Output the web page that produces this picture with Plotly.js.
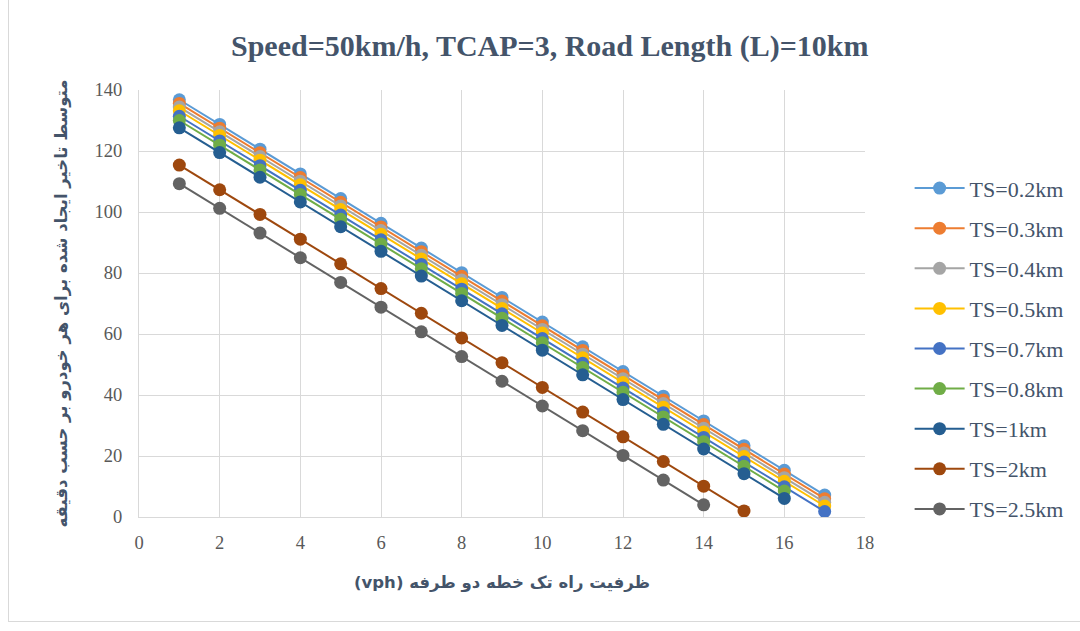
<!DOCTYPE html>
<html>
<head>
<meta charset="utf-8">
<script src="https://cdn.plot.ly/plotly-3.0.1.min.js"></script>
<style>
  html, body { margin: 0; padding: 0; background: #fff; }
  #wrap { position: relative; width: 1080px; height: 631px; }
  #chart { width: 1080px; height: 631px; }
  #frame { position: absolute; left: 8px; top: -2px; width: 1080px; height: 624px; border: 1px solid #D9D9D9; box-sizing: border-box; pointer-events: none; }
</style>
</head>
<body>
<div id="wrap"><div id="chart"></div><div id="frame"></div></div>
<script>
const capacity = [1,2,3,4,5,6,7,8,9,10,11,12,13,14,15,16,17];
const seriesNames = ["TS=0.2km","TS=0.3km","TS=0.4km","TS=0.5km","TS=0.7km","TS=0.8km","TS=1km","TS=2km","TS=2.5km"];
const seriesColors = ["#5B9BD5","#ED7D31","#A5A5A5","#FFC000","#4472C4","#70AD47","#255E91","#9E480E","#636363"];

const ts02 = [136.8,128.7,120.6,112.5,104.4,96.3,88.2,80.1,72.0,63.9,55.8,47.7,39.6,31.5,23.4,15.3,7.2];
const ts03 = [135.6,127.5,119.4,111.3,103.2,95.1,87.0,78.9,70.8,62.7,54.6,46.5,38.4,30.3,22.2,14.1,6.0];
const ts04 = [134.4,126.3,118.2,110.1,102.0,93.9,85.8,77.7,69.6,61.5,53.4,45.3,37.2,29.1,21.0,12.9,4.8];
const ts05 = [133.2,125.1,117.0,108.9,100.8,92.7,84.6,76.5,68.4,60.3,52.2,44.1,36.0,27.9,19.8,11.7,3.6];
const ts07 = [131.4,123.3,115.2,107.1,99.0,90.9,82.8,74.7,66.6,58.5,50.4,42.3,34.2,26.1,18.0,9.9,1.8];
const ts08 = [130.0,121.9,113.8,105.7,97.6,89.5,81.4,73.3,65.2,57.1,49.0,40.9,32.8,24.7,16.6,8.5];
const ts1  = [127.6,119.5,111.4,103.3,95.2,87.1,79.0,70.9,62.8,54.7,46.6,38.5,30.4,22.3,14.2,6.1];
const ts2  = [115.4,107.3,99.2,91.1,83.0,74.9,66.8,58.7,50.6,42.5,34.4,26.3,18.2,10.1,2.0];
const ts25 = [109.3,101.2,93.1,85.0,76.9,68.8,60.7,52.6,44.5,36.4,28.3,20.2,12.1,4.0];

const xTicks = [0,2,4,6,8,10,12,14,16,18];
const yTicks = [0,20,40,60,80,100,120,140];

const allSeries = [ts02, ts03, ts04, ts05, ts07, ts08, ts1, ts2, ts25];

const traces = allSeries.map((vals, i) => ({
  type: 'scatter',
  mode: 'lines+markers',
  name: seriesNames[i],
  legendgroup: 'g' + i,
  x: capacity.slice(0, vals.length),
  y: vals,
  line: { color: seriesColors[i], width: 2 },
  marker: { color: seriesColors[i], size: 13, line: { width: 0 } }
}));

const txtColor = '#44546A';
const layout = {
  width: 1080, height: 631,
  margin: { l: 139, r: 214, t: 90, b: 114 },
  paper_bgcolor: '#fff', plot_bgcolor: '#fff',
  title: {
    text: '<b>Speed=50km/h, TCAP=3, Road Length (L)=10km</b>',
    font: { family: 'Liberation Serif, serif', size: 30, color: txtColor },
    x: 0.509, xanchor: 'center', y: 0.928, yanchor: 'middle'
  },
  xaxis: {
    range: [0, 18], tickvals: xTicks, ticktext: xTicks.map(String),
    showgrid: true, gridcolor: '#D9D9D9', gridwidth: 1,
    zeroline: false, showline: true, linecolor: '#D9D9D9', linewidth: 1,
    ticks: 'outside', ticklen: 9, tickcolor: 'rgba(0,0,0,0)',
    tickfont: { family: 'Liberation Serif, serif', size: 18.5, color: '#595959' },
    title: { text: '<b>\u202Bظرفیت راه تک خطه دو طرفه (vph)\u202C</b>', font: { family: 'DejaVu Sans, sans-serif', size: 16.5, color: txtColor }, standoff: 24 }
  },
  yaxis: {
    range: [0, 140], tickvals: yTicks, ticktext: yTicks.map(String),
    showgrid: true, gridcolor: '#D9D9D9', gridwidth: 1,
    zeroline: false, showline: true, linecolor: '#D9D9D9', linewidth: 1,
    ticks: 'outside', ticklen: 12, tickcolor: 'rgba(0,0,0,0)',
    tickfont: { family: 'Liberation Serif, serif', size: 18.5, color: '#595959' },
    title: { text: '<b>\u202Bمتوسط تاخیر ایجاد شده برای هر خودرو بر حسب دقیقه\u202C</b>', font: { family: 'DejaVu Sans, sans-serif', size: 16.5, color: txtColor }, standoff: 22 }
  },
  legend: {
    x: 1.06, xanchor: 'left', y: 0.819, yanchor: 'top',
    font: { family: 'Liberation Serif, serif', size: 22, color: txtColor },
    itemwidth: 50,
    tracegroupgap: 8.5, bgcolor: 'rgba(0,0,0,0)'
  },
  showlegend: true
};

Plotly.newPlot('chart', traces, layout, { displayModeBar: false, staticPlot: true });
</script>
</body>
</html>
